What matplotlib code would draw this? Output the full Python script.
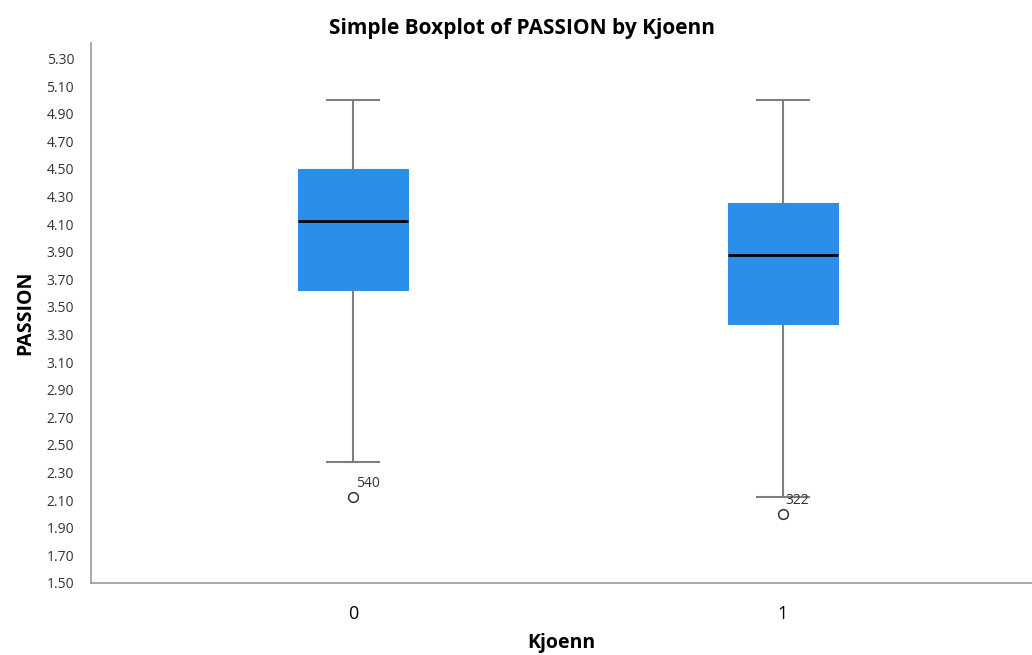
import matplotlib
matplotlib.use("Agg")
import matplotlib.pyplot as plt

plt.rcParams['font.family'] = ['Open Sans', 'DejaVu Sans']

# summary statistics
groups = ['0', '1']
whisker_low = [2.375, 2.125]
q1 = [3.625, 3.375]
median = [4.125, 3.875]
q3 = [4.5, 4.25]
whisker_high = [5.0, 5.0]
outliers = [[2.125], [2.0]]
outlier_ids = [['540'], ['322']]

y_ticks = [1.5 + 0.2 * i for i in range(20)]

stats = []
for i, g in enumerate(groups):
    stats.append({'label': g, 'whislo': whisker_low[i], 'q1': q1[i], 'med': median[i],
                  'q3': q3[i], 'whishi': whisker_high[i], 'fliers': outliers[i]})

fig = plt.figure(figsize=(10.32, 6.55), dpi=100)
ax = fig.add_axes([0.088, 0.110, 0.912, 0.824])

grey = '#7f7f7f'
ax.bxp(stats, positions=[0, 1], widths=0.256, patch_artist=True,
       boxprops=dict(facecolor='#2b8ee8', edgecolor='#2b8ee8', linewidth=0.8),
       medianprops=dict(color='black', linewidth=2),
       whiskerprops=dict(color=grey, linewidth=1.5),
       capprops=dict(color=grey, linewidth=1.5),
       capwidths=0.12,
       flierprops=dict(marker='o', markerfacecolor='white', markeredgecolor='#333333',
                       markersize=7, markeredgewidth=1.1))

for i in range(len(groups)):
    for v, lab in zip(outliers[i], outlier_ids[i]):
        ax.annotate(lab, (i, v), xytext=(2, 7), textcoords='offset points',
                    fontsize=10, color='#333333')

ax.set_xlim(-0.61, 1.58)
ax.set_ylim(1.5, 5.41)
ax.set_yticks(y_ticks)
ax.set_yticklabels([f'{t:.2f}' for t in y_ticks], fontsize=10, color='#333333')
ax.set_xticks([0, 1])
ax.set_xticklabels(groups, fontsize=13)
ax.tick_params(length=0)
ax.tick_params(axis='y', pad=12)
ax.tick_params(axis='x', pad=16)

for s in ['top', 'right']:
    ax.spines[s].set_visible(False)
for s in ['left', 'bottom']:
    ax.spines[s].set_color('#999999')
    ax.spines[s].set_linewidth(1.2)

ax.set_xlabel('Kjoenn', fontsize=14, fontweight='bold', labelpad=7)
ax.set_ylabel('PASSION', fontsize=14, fontweight='bold', labelpad=8)
# title is centred on the figure, not the axes
fig.text(0.506, 0.957, 'Simple Boxplot of PASSION by Kjoenn', fontsize=15,
         fontweight='bold', ha='center', va='center')

fig.savefig('out.png', dpi=100)
